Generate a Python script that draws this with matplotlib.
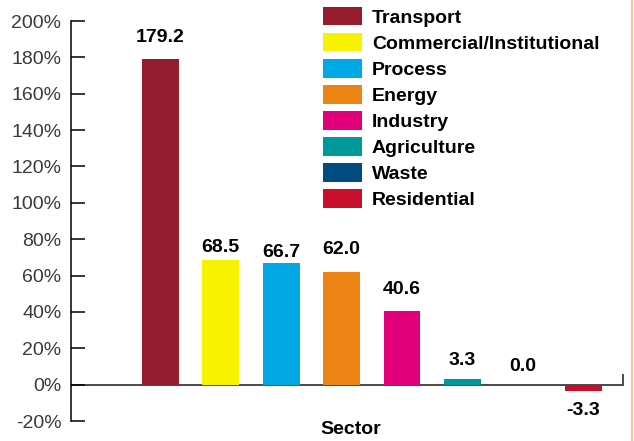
import matplotlib
matplotlib.use("Agg")
from matplotlib import pyplot as plt
from matplotlib.patches import Patch
from matplotlib.lines import Line2D
import numpy as np

sectors = ["Transport", "Commercial/Institutional", "Process", "Energy",
           "Industry", "Agriculture", "Waste", "Residential"]
change = [179.2, 68.5, 66.7, 62.0, 40.6, 3.3, 0.0, -3.3]
colors = ["#961d2d", "#f7f200", "#00a8e6", "#eb8413",
          "#e2007a", "#009999", "#004b80", "#c8102e"]
yticks = [-20, 0, 20, 40, 60, 80, 100, 120, 140, 160, 180, 200]

# gap between bar end and its value label, in points
label_pad = [9, 3, 2, 10, 9, 7, 7, 8]

plt.rcParams['font.family'] = ['Liberation Sans', 'DejaVu Sans']
fs = 14

fig = plt.figure(figsize=(6.34, 4.41), dpi=100)
ax = fig.add_axes([71 / 634, 20 / 441, 552 / 634, 400 / 441])

x = np.arange(len(sectors))
bars = ax.bar(x, change, width=0.61, color=colors)

for xi, v, pad in zip(x, change, label_pad):
    if v >= 0:
        ax.annotate(f"{v:.1f}", (xi, v), xytext=(0, pad), textcoords="offset points",
                    ha="center", va="bottom", fontsize=fs, fontweight="bold")
    else:
        ax.annotate(f"{v:.1f}", (xi, v), xytext=(0, -pad), textcoords="offset points",
                    ha="center", va="top", fontsize=fs, fontweight="bold")

ax.set_xlim(-1.48, 7.66)
ax.set_ylim(-20, 200)

# zero baseline with a small end tick on the right
ax.axhline(0, color="#4a4a4a", lw=1.4, zorder=0)
ax.plot([7.66, 7.66], [0, 5.5], color="#4a4a4a", lw=1.4, clip_on=False)

ax.set_yticks(yticks)
ax.set_yticklabels([f"{t}%" for t in yticks])
ax.tick_params(axis="y", direction="in", length=10, width=1.1, colors="black",
               labelsize=fs, labelcolor="#3a3a3a", pad=7)
ax.set_xticks([])
for s in ["top", "right", "bottom"]:
    ax.spines[s].set_visible(False)
ax.spines["left"].set_linewidth(1.1)

handles = [Patch(facecolor=c, edgecolor="none") for c in colors]
fig.legend(handles, sectors, loc="upper left", bbox_to_anchor=(323 / 634, 1 - 7 / 441),
           frameon=False, borderpad=0, borderaxespad=0, handlelength=2.0,
           handleheight=1.08, handletextpad=0.51, labelspacing=0.32,
           prop={"size": fs, "weight": "bold"})

fig.text(351 / 634, 1 - 430 / 441, "Sector", ha="center", va="center",
         fontsize=fs, fontweight="bold")

fig.add_artist(Line2D([0.9975, 0.9975], [0, 1], transform=fig.transFigure,
                      color="#f6c592", lw=1.5))

fig.savefig("out.png", dpi=100)
